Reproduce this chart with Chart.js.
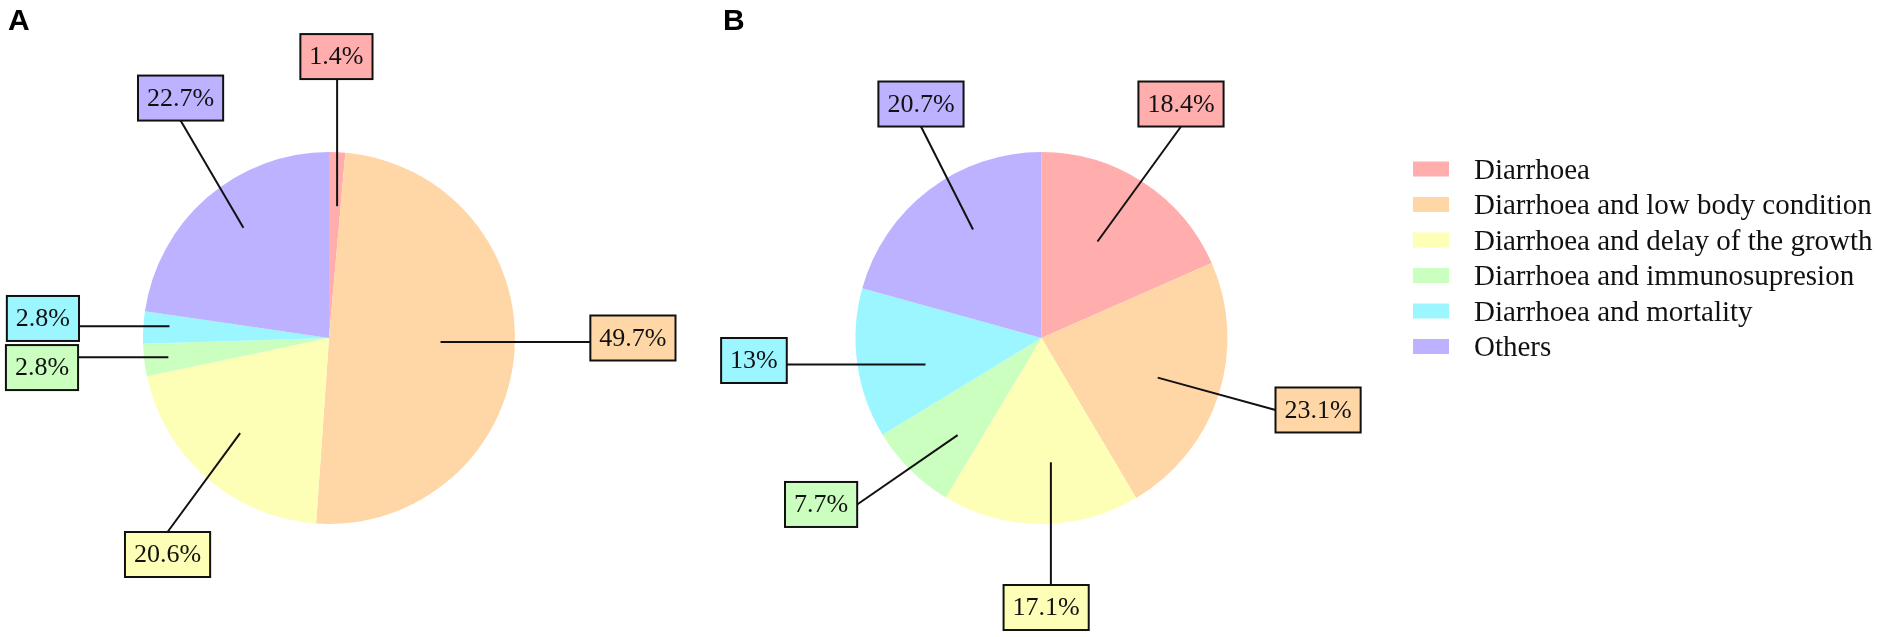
<!DOCTYPE html>
<html>
<head>
<meta charset="utf-8">
<script src="https://cdn.jsdelivr.net/npm/chart.js@4.4.1/dist/chart.umd.min.js"></script>
<style>
  body { margin: 0; background: #fff; width: 1902px; height: 637px; position: relative; overflow: hidden; }
  .panel { position: absolute; top: 0; height: 637px; }
  #panelA { left: 0; width: 700px; }
  #panelB { left: 700px; width: 1202px; }
</style>
</head>
<body>
<div class="panel" id="panelA"><canvas id="pieA"></canvas></div>
<div class="panel" id="panelB"><canvas id="pieB"></canvas></div>
<script>
// categories shared by both panels
const categories = [
  'Diarrhoea',
  'Diarrhoea and low body condition',
  'Diarrhoea and delay of the growth',
  'Diarrhoea and immunosupresion',
  'Diarrhoea and mortality',
  'Others'
];
// percentages
const valuesA = [1.4, 49.7, 20.6, 2.8, 2.8, 22.7];
const valuesB = [18.4, 23.1, 17.1, 7.7, 13, 20.7];

const colors = ['#FFADAD', '#FFD6A5', '#FDFFB6', '#CAFFBF', '#9BF6FF', '#BDB2FF'];

// where each callout sits: r = anchor depth (fraction of radius), da = angle nudge (deg),
// bx/by = box centre relative to pie centre, in radii
const calloutsA = [
  {r: 0.71, da: 1,    bx: 0.04,   by: -1.513},
  {r: 0.60, da: -2.5, bx: 1.634,  by: 0},
  {r: 0.70, da: 2,    bx: -0.868, by: 1.164},
  {r: 0.87, da: 0,    bx: -1.543, by: 0.159},
  {r: 0.86, da: 1,    bx: -1.538, by: -0.105},
  {r: 0.75, da: 3,    bx: -0.798, by: -1.290}
];
const calloutsB = [
  {r: 0.60, da: -3,   bx: 0.750,  by: -1.258},
  {r: 0.66, da: 1,    bx: 1.487,  by: 0.387},
  {r: 0.67, da: -4.5, bx: 0.025,  by: 1.449},
  {r: 0.69, da: -4,   bx: -1.185, by: 0.895},
  {r: 0.64, da: -5,   bx: -1.546, by: 0.121},
  {r: 0.69, da: 5,    bx: -0.648, by: -1.258}
];

/* Draws the boxed percentage labels with leader lines, the panel letter
 * and (when asked) the legend column. */
const calloutPlugin = {
  id: 'callouts',
  afterDraw(chart, args, opts) {
    const ctx = chart.ctx;
    const meta = chart.getDatasetMeta(0);
    const ds = chart.data.datasets[0];
    ctx.save();

    // panel letter
    ctx.fillStyle = '#000';
    ctx.font = 'bold 30px "Liberation Sans"';
    ctx.textBaseline = 'alphabetic';
    ctx.textAlign = 'left';
    ctx.fillText(opts.tag, opts.tagX, 30);

    ctx.font = '26px "Liberation Serif"';
    meta.data.forEach((arc, i) => {
      const p = arc.getProps(['x', 'y', 'startAngle', 'endAngle', 'outerRadius'], true);
      const c = opts.layout[i];
      const mid = (p.startAngle + p.endAngle) / 2 + c.da * Math.PI / 180;
      const ax = p.x + Math.cos(mid) * p.outerRadius * c.r;
      const ay = p.y + Math.sin(mid) * p.outerRadius * c.r;

      const text = ds.data[i] + '%';
      const w = ctx.measureText(text).width + 18;
      const h = 45;
      const cx = p.x + c.bx * p.outerRadius;
      const cy = p.y + c.by * p.outerRadius;
      const x0 = cx - w / 2, x1 = cx + w / 2, y0 = cy - h / 2, y1 = cy + h / 2;

      // straight leader when the anchor lines up with the box, otherwise
      // to the nearest edge midpoint
      let end;
      if (ay >= y0 && ay <= y1) {
        end = [ax < cx ? x0 : x1, ay];
      } else if (ax >= x0 && ax <= x1) {
        end = [ax, ay < cy ? y0 : y1];
      } else {
        const edges = [[cx, y0], [cx, y1], [x0, cy], [x1, cy]];
        let bestD = Infinity;
        edges.forEach(e => {
          const d = Math.hypot(e[0] - ax, e[1] - ay);
          if (d < bestD) { bestD = d; end = e; }
        });
      }
      ctx.strokeStyle = '#111';
      ctx.lineWidth = 2;
      ctx.beginPath();
      ctx.moveTo(ax, ay);
      ctx.lineTo(end[0], end[1]);
      ctx.stroke();

      ctx.fillStyle = ds.backgroundColor[i];
      ctx.fillRect(x0, y0, w, h);
      ctx.strokeRect(x0, y0, w, h);

      ctx.fillStyle = '#111';
      ctx.textAlign = 'center';
      ctx.textBaseline = 'middle';
      ctx.fillText(text, cx, cy + 1);
    });

    if (opts.legend) {
      const L = opts.legend;
      ctx.font = '29px "Liberation Serif"';
      ctx.textAlign = 'left';
      ctx.textBaseline = 'alphabetic';
      chart.data.labels.forEach((lab, i) => {
        const yc = L.y + i * L.step;
        ctx.fillStyle = ds.backgroundColor[i];
        ctx.fillRect(L.x, yc - 7.5, 36, 15);
        ctx.fillStyle = '#111';
        ctx.fillText(lab, L.x + 61, yc + 9.5);
      });
    }
    ctx.restore();
  }
};

function buildPie(id, values, layout, padding, extra) {
  return new Chart(document.getElementById(id), {
    type: 'pie',
    data: {
      labels: categories,
      datasets: [{
        data: values,
        backgroundColor: colors,
        borderWidth: 0
      }]
    },
    options: {
      responsive: true,
      maintainAspectRatio: false,
      animation: false,
      layout: {padding: padding},
      plugins: {
        legend: {display: false},
        tooltip: {enabled: false},
        callouts: Object.assign({layout: layout}, extra)
      }
    },
    plugins: [calloutPlugin]
  });
}

buildPie('pieA', valuesA, calloutsA,
  {top: 152, bottom: 113, left: 143, right: 185},
  {tag: 'A', tagX: 8});
buildPie('pieB', valuesB, calloutsB,
  {top: 152, bottom: 113, left: 155.5, right: 674.5},
  {tag: 'B', tagX: 23, legend: {x: 713, y: 169, step: 35.5}});
</script>
</body>
</html>
